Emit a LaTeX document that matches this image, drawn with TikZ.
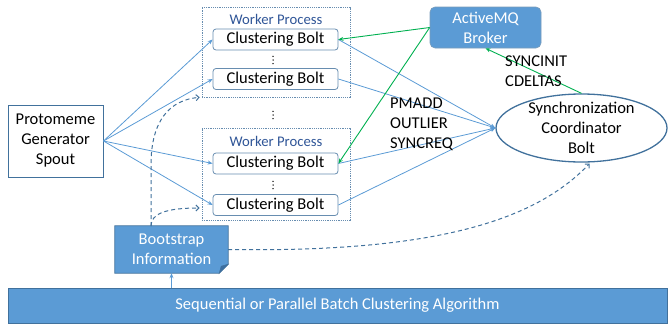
\documentclass[tikz,border=0pt]{standalone}
\usepackage{fontspec}
\setmainfont{Carlito}
\usetikzlibrary{arrows.meta,calc,shapes.geometric,backgrounds}
\definecolor{fillblue}{RGB}{91,155,213}
\definecolor{edgeblue}{RGB}{65,113,156}
\definecolor{linkblue}{RGB}{91,155,213}
\definecolor{msggreen}{RGB}{0,176,80}
\definecolor{wptext}{RGB}{47,85,151}
\definecolor{foldblue}{RGB}{60,110,160}

\begin{document}
\begin{tikzpicture}[x=1pt,y=-1pt,
  basefont/.style={font=\fontsize{16.5}{20}\selectfont},
  plainbox/.style={basefont,draw=edgeblue,line width=1pt,fill=white,align=center,inner sep=0pt},
  boltbox/.style={basefont,draw=edgeblue!80,line width=0.8pt,fill=white,rounded corners=3pt,
    minimum width=125,minimum height=21,inner sep=0pt},
  wpbox/.style={draw=edgeblue!80,line width=0.6pt,dash pattern=on 1.2pt off 1pt},
  wplabel/.style={font=\fontsize{14.7}{17}\selectfont,text=wptext,inner sep=0pt},
  link/.style={draw=linkblue,line width=0.8pt,-{Stealth[length=5pt,width=4pt]}},
  msg/.style={draw=msggreen,line width=0.9pt,-{Stealth[length=5pt,width=4pt]}},
  bootlink/.style={draw=edgeblue,line width=1pt,dash pattern=on 4pt off 3pt,
    -{Straight Barb[length=3pt,width=6pt]}},
  tag/.style={basefont,align=left,anchor=west,inner sep=0pt}
]
\useasboundingbox (0,0) rectangle (668,324);

% worker process containers
\node[wpbox,minimum width=148,minimum height=90,inner sep=0pt] (wp1) at (276,52) {};
\node[wpbox,minimum width=148,minimum height=92,inner sep=0pt] (wp2) at (276,174) {};
\node[wplabel] (wl1) at (276,19) {Worker Process};
\node[wplabel] (wl2) at (276,141) {Worker Process};

% clustering bolts
\node[boltbox] (b1) at (275.5,39.5) {Clustering Bolt};
\node[boltbox] (b2) at (275.5,79) {Clustering Bolt};
\node[boltbox] (b3) at (275.5,163.5) {Clustering Bolt};
\node[boltbox] (b4) at (275.5,205) {Clustering Bolt};

% vertical ellipses between bolts and between workers
\coordinate (d1) at (273,60);
\coordinate (d2) at (273,115);
\coordinate (d3) at (273,185);
\foreach \d in {d1,d2,d3}
  \foreach \dy in {-3.6,0,3.6}
    \fill ($(\d)+(0,\dy)$) circle (0.75);

% spout
\node[plainbox,minimum width=95,minimum height=72] (spout) at (55.5,141) {Protomeme\\Generator\\Spout};

% broker
\node[basefont,fill=fillblue,draw=edgeblue!70,line width=0.6pt,rounded corners=5pt,text=white,
  align=center,minimum width=111,minimum height=41,inner sep=0pt] (broker) at (485.5,27.5) {ActiveMQ\\Broker};

% synchronization coordinator
\node[ellipse,draw=edgeblue,line width=1.3pt,minimum width=171,minimum height=68,inner sep=0pt] (sync) at (581.5,128) {};
\node[basefont,align=center,inner sep=0pt] (synctext) at (sync.center) {Synchronization\\Coordinator\\Bolt};

% batch clustering bar
\node[basefont,fill=fillblue,draw=edgeblue,line width=0.8pt,text=white,minimum width=659,
  minimum height=35,inner sep=0pt] (bar) at (337.5,305.5) {Sequential or Parallel Batch Clustering Algorithm};

% bootstrap information (folded-corner note)
\node[basefont,text=white,align=center,minimum width=113,minimum height=47,inner sep=0pt] (boot) at (171.5,249.5) {Bootstrap\\Information};
\begin{scope}[on background layer]
  \fill[fillblue,draw=edgeblue,line width=0.8pt] (boot.north west) -- (boot.north east)
    -- ($(boot.south east)+(0,-9)$) -- ($(boot.south east)+(-9,0)$) -- (boot.south west) -- cycle;
  \fill[foldblue,draw=edgeblue,line width=0.5pt] ($(boot.south east)+(0,-9)$) -- ($(boot.south east)+(-9,0)$)
    -- ($(boot.south east)+(-7,-7)$) -- cycle;
\end{scope}

% spout to bolts
\foreach \b in {b1,b2,b3,b4} \draw[link] (spout.east) -- (\b.west);
% bolts to coordinator
\foreach \b in {b1,b2,b3,b4} \draw[link] (\b.east) -- (sync.west);

% messaging through the broker
\draw[msg] (broker.west) -- (b1.east);
\draw[msg] (broker.west) -- (b3.east);
\draw[msg] (sync.north) -- (broker.south);

% message labels
\node[tag] (lab1) at (505,71) {SYNCINIT\\CDELTAS};
\node[tag] (lab2) at (390,124) {PMADD\\OUTLIER\\SYNCREQ};

% bootstrap paths
\coordinate (bs) at (151,226);
\coordinate (wpcorner) at ($(wp1.south west)+(-2,0)$);
\coordinate (b4in) at ($(b4.west)+(-13,3)$);
\draw[bootlink] (bs) -- (151,165) .. controls (151,120) and (170,100) .. (wpcorner);
\draw[bootlink] (bs) .. controls (151,214) and (165,208) .. (b4in);
\draw[bootlink] (boot.east) .. controls (450,253) and (540,215) .. ($(sync.south)+(8,1)$);
\draw[link] (bar.north -| boot.south) -- (boot.south);
\end{tikzpicture}
\end{document}
